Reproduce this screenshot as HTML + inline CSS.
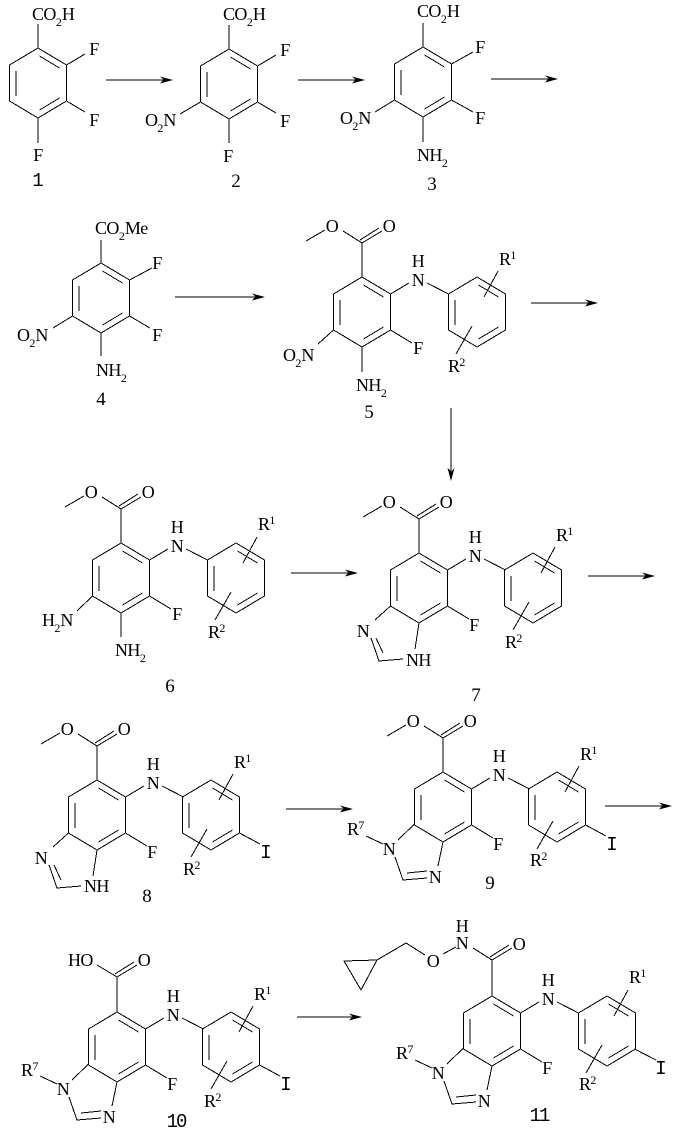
<!DOCTYPE html>
<html><head><meta charset="utf-8"><style>
html,body{margin:0;padding:0;background:#fff}
svg{display:block}
text{font-family:"Liberation Serif",serif;font-size:18px;letter-spacing:-.6px;fill:#000}
.m{text-anchor:middle}
.s{font-size:12px;letter-spacing:0}
.n{font-size:19px;letter-spacing:0;text-anchor:middle}
.i{font-family:"Liberation Mono",monospace;font-size:19px;letter-spacing:0;text-anchor:middle}
.l{stroke:#000;stroke-width:1;fill:none;shape-rendering:crispEdges}
</style></head><body>
<svg width="679" height="1134" viewBox="0 0 679 1134" xmlns="http://www.w3.org/2000/svg">
<defs>
<g id="r" class="l"><path d="M0 0L28.5 17V53L0 70L-28.5 53V17Z"/><path d="M1.5 8L21.5 20M1.5 62L21.5 50M-22 23V48"/></g>
<path id="a" d="M0 0L-13 -3.5L-9.5 -0.5L-13 3.5Z" fill="#000"/>
<g id="core" class="l"><path d="M28.5 17L47 6M65 6L86.5 17M28.5 53L50 66M136 -6L122 20M110 49L94 77"/></g>
<g id="est" class="l"><path d="M0 0V-34L20 -46M-2 -37L17 -49M0 -34L-19 -46M-37 -47L-56 -36"/></g>
<g id="imh" class="l"><path d="M-28.5 53L-44 67M-48 85L-40 108L-16 106M-43 85L-36 100M0 70L-4 96"/></g>
<g id="imr" class="l"><path d="M-28.5 52L-45 68M-77 64L-60 72M-48 85L-40 108L-16 106M-36 101L-16 99M0 70L-5 94"/></g>
<path id="ib" class="l" d="M142.5 53L163 64"/>
</defs>

<!-- arrows -->
<g class="l"><path d="M106 80H170M298 80H362M491 79H555M175 297H262M531 303H595M451 408V478M291 573H355M588 576H652M286 809H350M605 806H669M297 1017H359"/></g>
<use href="#a" transform="translate(173,80)"/><use href="#a" transform="translate(365,80)"/><use href="#a" transform="translate(558,79)"/>
<use href="#a" transform="translate(265,297)"/><use href="#a" transform="translate(598,303)"/><use href="#a" transform="translate(451,481) rotate(90)"/>
<use href="#a" transform="translate(358,573)"/><use href="#a" transform="translate(655,576)"/><use href="#a" transform="translate(353,809)"/>
<use href="#a" transform="translate(672,806)"/><use href="#a" transform="translate(362,1017)"/>

<!-- 1 -->
<g transform="translate(38,48)"><use href="#r"/><path class="l" d="M0 0V-24M28.5 17L47 6M28.5 53L47 64M0 70V95"/>
<text x="-6" y="-28">CO<tspan class="s" dy="6">2</tspan><tspan dy="-6">H</tspan></text>
<text class="m" x="56" y="7">F</text><text class="m" x="56" y="78">F</text><text class="m" x="0" y="113">F</text><text class="i" x="0" y="138">1</text></g>

<!-- 2 -->
<g transform="translate(229,49)"><use href="#r"/><path class="l" d="M0 0V-24M28.5 17L47 6M28.5 53L47 64M-28.5 53L-49 65M0 70V94"/>
<text x="-6" y="-29">CO<tspan class="s" dy="6">2</tspan><tspan dy="-6">H</tspan></text>
<text class="m" x="56" y="7">F</text><text class="m" x="56" y="78">F</text><text class="m" x="-1" y="113">F</text>
<text x="-84" y="77">O<tspan class="s" dy="6">2</tspan><tspan dy="-6">N</tspan></text><text class="n" x="7" y="138">2</text></g>

<!-- 3 -->
<g transform="translate(423,47)"><use href="#r"/><path class="l" d="M0 0V-24M28.5 17L50 5M28.5 53L50 65M-28.5 53L-48 65M0 70V95"/>
<text x="-6" y="-30">CO<tspan class="s" dy="6">2</tspan><tspan dy="-6">H</tspan></text>
<text class="m" x="57" y="6">F</text><text class="m" x="57" y="77">F</text>
<text x="-83" y="77">O<tspan class="s" dy="6">2</tspan><tspan dy="-6">N</tspan></text>
<text x="-6" y="114">NH<tspan class="s" dy="6">2</tspan></text><text class="n" x="9" y="143">3</text></g>

<!-- 4 -->
<g transform="translate(101,263)"><use href="#r"/><path class="l" d="M0 0V-23M28.5 17L51 5M28.5 53L49 65M-28.5 53L-48 65M0 70V93"/>
<text x="-6" y="-29">CO<tspan class="s" dy="6">2</tspan><tspan dy="-6">Me</tspan></text>
<text class="m" x="56" y="6">F</text><text class="m" x="56" y="78">F</text>
<text x="-84" y="78">O<tspan class="s" dy="6">2</tspan><tspan dy="-6">N</tspan></text>
<text x="-5" y="113">NH<tspan class="s" dy="6">2</tspan></text><text class="n" x="0" y="142">4</text></g>

<!-- 5 -->
<g transform="translate(362,277)"><use href="#r"/><use href="#r" x="115"/><use href="#core"/><use href="#est"/>
<path class="l" d="M-28.5 53L-44 67M0 70V95"/>
<text class="m" x="27" y="-45">O</text><text class="m" x="-30" y="-45">O</text>
<text class="m" x="56" y="9">N</text><text class="m" x="56" y="-10">H</text><text class="m" x="56" y="77">F</text>
<text x="137" y="-12">R<tspan class="s" dy="-6">1</tspan></text><text x="86" y="95">R<tspan class="s" dy="-6">2</tspan></text>
<text x="-79" y="84">O<tspan class="s" dy="6">2</tspan><tspan dy="-6">N</tspan></text>
<text x="-6" y="114">NH<tspan class="s" dy="6">2</tspan></text><text class="n" x="7" y="141">5</text></g>

<!-- 6 -->
<g transform="translate(121,543)"><use href="#r"/><use href="#r" x="115"/><use href="#core"/><use href="#est"/>
<path class="l" d="M-28.5 53L-44 68M0 70V94"/>
<text class="m" x="27" y="-45">O</text><text class="m" x="-30" y="-45">O</text>
<text class="m" x="56" y="9">N</text><text class="m" x="56" y="-10">H</text><text class="m" x="56" y="77">F</text>
<text x="137" y="-13">R<tspan class="s" dy="-6">1</tspan></text><text x="87" y="95">R<tspan class="s" dy="-6">2</tspan></text>
<text x="-79" y="83">H<tspan class="s" dy="6">2</tspan><tspan dy="-6">N</tspan></text>
<text x="-6" y="113">NH<tspan class="s" dy="6">2</tspan></text><text class="n" x="49" y="149">6</text></g>

<!-- 7 -->
<g transform="translate(419,553)"><use href="#r"/><use href="#r" x="114"/><use href="#core"/><use href="#est"/><use href="#imh"/>
<text class="m" x="27" y="-45">O</text><text class="m" x="-30" y="-45">O</text>
<text class="m" x="56" y="9">N</text><text class="m" x="56" y="-10">H</text><text class="m" x="55" y="78">F</text>
<text x="137" y="-12">R<tspan class="s" dy="-6">1</tspan></text><text x="86" y="95">R<tspan class="s" dy="-6">2</tspan></text>
<text class="m" x="-56" y="84">N</text><text x="-13" y="113">NH</text><text class="n" x="57" y="148">7</text></g>

<!-- 8 -->
<g transform="translate(97,780)"><use href="#r"/><use href="#r" x="114"/><use href="#core"/><use href="#est"/><use href="#imh"/><use href="#ib"/>
<text class="m" x="27" y="-45">O</text><text class="m" x="-30" y="-45">O</text>
<text class="m" x="56" y="9">N</text><text class="m" x="56" y="-10">H</text><text class="m" x="55" y="78">F</text>
<text x="137" y="-12">R<tspan class="s" dy="-6">1</tspan></text><text x="86" y="95">R<tspan class="s" dy="-6">2</tspan></text>
<text class="i" x="169" y="78">I</text>
<text class="m" x="-56" y="84">N</text><text x="-13" y="112">NH</text><text class="n" x="50" y="122">8</text></g>

<!-- 9 -->
<g transform="translate(443,772)"><use href="#r"/><use href="#r" x="114"/><use href="#core"/><use href="#est"/><use href="#imr"/><use href="#ib"/>
<text class="m" x="27" y="-45">O</text><text class="m" x="-30" y="-45">O</text>
<text class="m" x="56" y="9">N</text><text class="m" x="56" y="-10">H</text><text class="m" x="55" y="78">F</text>
<text x="137" y="-12">R<tspan class="s" dy="-6">1</tspan></text><text x="87" y="94">R<tspan class="s" dy="-6">2</tspan></text>
<text class="i" x="169" y="78">I</text>
<text x="-96" y="63">R<tspan class="s" dy="-6">7</tspan></text>
<text class="m" x="-54" y="83">N</text><text class="m" x="-8" y="111">N</text><text class="n" x="47" y="117">9</text></g>

<!-- 10 -->
<g transform="translate(117,1012)"><use href="#r"/><use href="#r" x="114"/><use href="#core"/><use href="#imr"/><use href="#ib"/>
<path class="l" d="M0 0V-35L20 -47M-2 -38L17 -50M0 -35L-20 -47"/>
<text class="m" x="27" y="-46">O</text><text x="-49" y="-46">HO</text>
<text class="m" x="56" y="9">N</text><text class="m" x="56" y="-10">H</text><text class="m" x="55" y="78">F</text>
<text x="137" y="-12">R<tspan class="s" dy="-6">1</tspan></text><text x="87" y="95">R<tspan class="s" dy="-6">2</tspan></text>
<text class="i" x="169" y="78">I</text>
<text x="-96" y="64">R<tspan class="s" dy="-6">7</tspan></text>
<text class="m" x="-54" y="83">N</text><text class="m" x="-8" y="111">N</text>
<text class="i" x="59" y="115" style="letter-spacing:-2px">10</text></g>

<!-- 11 -->
<g transform="translate(492,996)"><use href="#r"/><use href="#r" x="115"/><use href="#core"/><use href="#imr"/>
<path class="l" d="M142.5 53L164 64M0 0V-36L20 -48M-2 -39L17 -51M0 -36L-19 -48M-36 -49L-49 -42M-67 -41L-86 -53L-115 -36L-148 -35L-131 -6L-115 -36"/>
<text class="m" x="27" y="-46">O</text><text class="m" x="-30" y="-47">N</text><text class="m" x="-30" y="-64">H</text><text class="m" x="-59" y="-29">O</text>
<text class="m" x="56" y="9">N</text><text class="m" x="56" y="-10">H</text><text class="m" x="55" y="78">F</text>
<text x="137" y="-13">R<tspan class="s" dy="-6">1</tspan></text><text x="87" y="94">R<tspan class="s" dy="-6">2</tspan></text>
<text class="i" x="169" y="78">I</text>
<text x="-96" y="63">R<tspan class="s" dy="-6">7</tspan></text>
<text class="m" x="-54" y="83">N</text><text class="m" x="-8" y="111">N</text>
<text class="i" x="47" y="125" style="letter-spacing:-2px">11</text></g>
</svg>
</body></html>
